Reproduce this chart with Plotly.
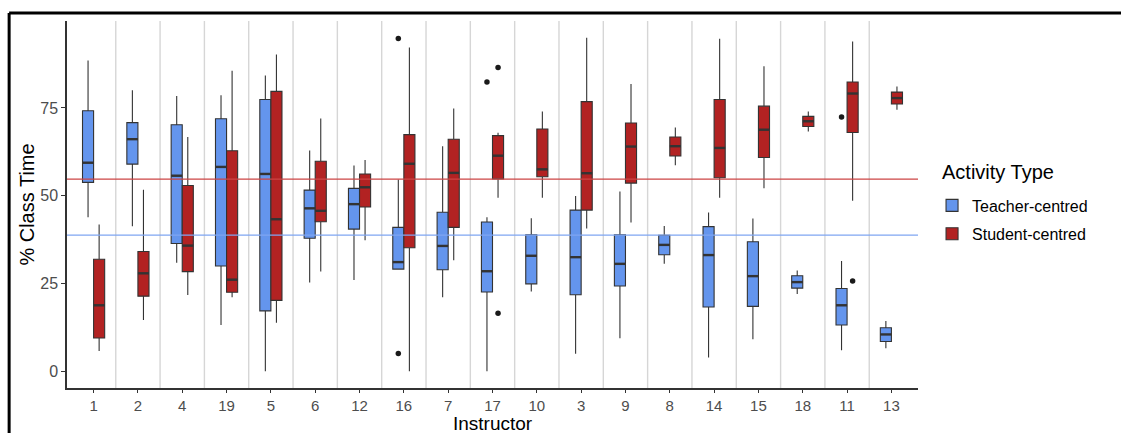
import plotly.graph_objects as go

instructors = ["1", "2", "4", "19", "5", "6", "12", "16", "7", "17", "10", "3", "9", "8", "14", "15", "18", "11", "13"]

teacher_lower = [43.9, 41.3, 30.9, 13.2, 0.0, 25.3, 26.0, 28.9, 21.1, 0.0, 22.7, 5.0, 9.4, 30.6, 3.9, 9.1, 22.0, 6.0, 6.6]
teacher_q1 = [53.8, 59.0, 36.4, 30.0, 17.2, 37.9, 40.5, 29.1, 28.9, 22.6, 24.9, 21.8, 24.3, 33.2, 18.3, 18.5, 23.7, 13.2, 8.5]
teacher_median = [59.4, 66.1, 55.7, 58.2, 56.2, 46.4, 47.6, 31.1, 35.7, 28.5, 32.9, 32.5, 30.6, 36.0, 33.1, 27.1, 25.4, 18.8, 10.5]
teacher_q3 = [74.2, 70.8, 70.2, 71.9, 77.4, 51.6, 52.1, 41.0, 45.3, 42.5, 38.9, 45.9, 38.9, 38.7, 41.2, 36.9, 27.2, 23.6, 12.4]
teacher_upper = [88.5, 80.0, 78.4, 78.6, 84.2, 62.9, 58.6, 54.6, 64.1, 43.9, 43.6, 49.9, 51.2, 41.4, 45.2, 43.5, 28.7, 31.4, 14.3]

student_lower = [5.8, 14.6, 21.7, 21.1, 13.8, 28.4, 37.3, 0.0, 31.6, 49.4, 49.4, 40.7, 42.4, 58.7, 49.4, 52.1, 68.3, 48.6, 74.5]
student_q1 = [9.5, 21.4, 28.4, 22.5, 20.2, 42.6, 46.8, 35.2, 41.0, 54.8, 55.4, 45.9, 53.6, 61.3, 55.1, 60.9, 69.7, 68.0, 76.1]
student_median = [18.8, 27.9, 35.8, 26.1, 43.3, 45.7, 52.4, 59.1, 56.5, 61.4, 57.5, 56.4, 64.0, 64.1, 63.6, 68.8, 71.2, 79.1, 77.8]
student_q3 = [31.9, 34.1, 52.9, 62.8, 79.7, 59.8, 56.2, 67.4, 66.1, 67.1, 69.0, 76.8, 70.7, 66.7, 77.4, 75.5, 72.6, 82.4, 79.5]
student_upper = [41.8, 51.7, 66.7, 85.6, 90.2, 72.0, 60.2, 92.2, 74.8, 67.9, 74.0, 95.0, 81.8, 69.4, 94.7, 86.9, 74.0, 93.9, 81.1]

teacher_outlier_instr = ["16", "16", "17", "11"]
teacher_outlier_vals = [94.8, 5.1, 82.4, 72.4]
student_outlier_instr = ["17", "17", "11"]
student_outlier_vals = [86.5, 16.5, 25.7]

teacher_mean = 38.8
student_mean = 54.7

BLUE = "#6495ED"
RED = "#B22222"
EDGE = "#333333"
BOXW = 0.25
OFF = 0.125

idx = {name: i for i, name in enumerate(instructors)}
fig = go.Figure()

series = [
    ("Teacher-centred", -OFF, BLUE, teacher_lower, teacher_q1, teacher_median, teacher_q3, teacher_upper,
     teacher_outlier_instr, teacher_outlier_vals, "t"),
    ("Student-centred", OFF, RED, student_lower, student_q1, student_median, student_q3, student_upper,
     student_outlier_instr, student_outlier_vals, "s"),
]

for name, off, col, lo, q1, med, q3, up, oi, ov, grp in series:
    pos = [i + off for i in range(len(instructors))]
    fig.add_trace(go.Box(
        name=name, x=pos, q1=q1, median=med, q3=q3, lowerfence=lo, upperfence=up,
        width=BOXW, fillcolor=col, line=dict(color=EDGE, width=1.1), whiskerwidth=0,
        boxpoints=False, legendgroup=grp, showlegend=True,
    ))
    mx, my = [], []
    for p, m in zip(pos, med):
        mx += [p - BOXW / 2, p + BOXW / 2, None]
        my += [m, m, None]
    fig.add_trace(go.Scatter(x=mx, y=my, mode="lines", line=dict(color=EDGE, width=2.4),
                             showlegend=False, legendgroup=grp, hoverinfo="skip"))
    fig.add_trace(go.Scatter(x=[idx[k] + off for k in oi], y=ov, mode="markers",
                             marker=dict(color="#1a1a1a", size=5.5), showlegend=False,
                             legendgroup=grp, hoverinfo="skip"))

shapes = []
for i in range(len(instructors) - 1):
    shapes.append(dict(type="line", xref="x", yref="y domain", x0=i + 0.5, x1=i + 0.5, y0=0, y1=1,
                       line=dict(color="#D6D6D6", width=1.4), layer="below"))
shapes.append(dict(type="line", xref="paper", yref="y", x0=0, x1=1, y0=student_mean, y1=student_mean,
                   line=dict(color="#CC4444", width=1.2), layer="above"))
shapes.append(dict(type="line", xref="paper", yref="y", x0=0, x1=1, y0=teacher_mean, y1=teacher_mean,
                   line=dict(color="#7FA6F2", width=1.2), layer="above"))
# outer black frame of the figure image
shapes.append(dict(type="line", xref="paper", yref="paper", x0=-0.068, x1=1.3, y0=1.022, y1=1.022,
                   line=dict(color="black", width=3)))
shapes.append(dict(type="line", xref="paper", yref="paper", x0=-0.068, x1=-0.068, y0=1.022, y1=-0.2,
                   line=dict(color="black", width=3)))

fig.update_layout(
    width=1121, height=433,
    margin=dict(l=67, r=203, t=21, b=45, autoexpand=False),
    paper_bgcolor="white", plot_bgcolor="white",
    font=dict(family="Liberation Sans, Arial, sans-serif", color="#4D4D4D"),
    shapes=shapes,
    showlegend=True,
    legend=dict(
        font=dict(size=16, color="black"),
        x=1.0165, xanchor="left", y=0.4578, yanchor="middle",
        traceorder="grouped", tracegroupgap=4.6, bgcolor="rgba(0,0,0,0)",
    ),
    annotations=[
        dict(text="Activity Type", xref="paper", yref="paper", x=1.0259, y=0.5886,
             xanchor="left", yanchor="middle", showarrow=False,
             font=dict(size=20, color="black")),
        dict(text="Instructor", xref="paper", yref="paper", x=0.5, y=-0.0954,
             xanchor="center", yanchor="middle", showarrow=False, borderpad=0,
             font=dict(size=19, color="black")),
    ],
    xaxis=dict(
        range=[-0.6, len(instructors) - 0.4], automargin=False,
        tickmode="array", tickvals=list(range(len(instructors))), ticktext=instructors,
        showgrid=False, zeroline=False, showline=True, linecolor=EDGE, linewidth=1.5,
        ticks="outside", ticklen=3, tickcolor=EDGE, tickwidth=1.2,
        tickfont=dict(size=15, color="#4D4D4D"),
    ),
    yaxis=dict(
        range=[-4.75, 99.75], automargin=False,
        tickmode="array", tickvals=[0, 25, 50, 75],
        showgrid=False, zeroline=False, showline=True, linecolor=EDGE, linewidth=1.5,
        ticks="outside", ticklen=4, tickcolor=EDGE, tickwidth=1.2,
        tickfont=dict(size=16, color="#4D4D4D"),
        title=dict(text="% Class Time", font=dict(size=20, color="black"), standoff=0),
    ),
)

fig.write_html("out.html", config={"displayModeBar": False},
               post_script="document.body.style.margin='0';")
